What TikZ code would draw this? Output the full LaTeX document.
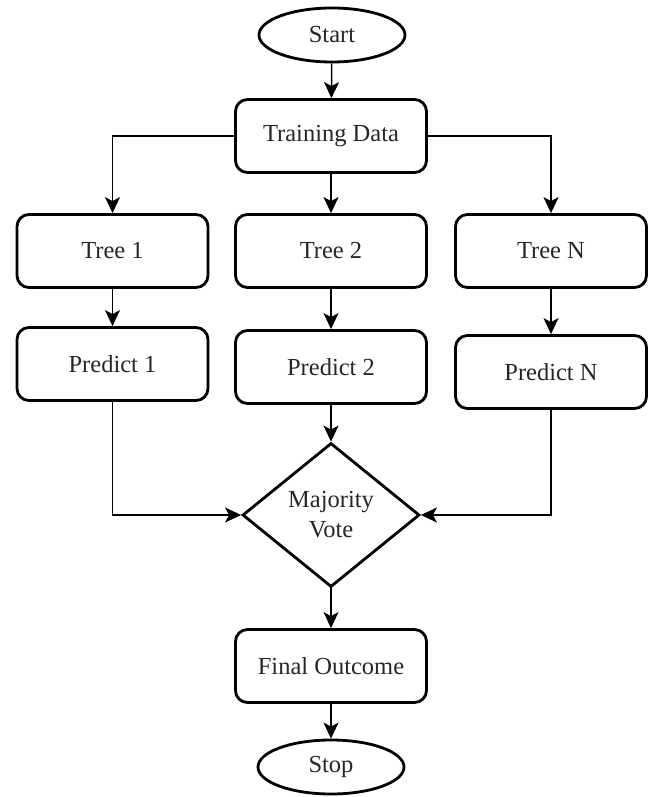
\documentclass[tikz,border=0pt]{standalone}
\usepackage{fontspec}
\setmainfont{Liberation Serif}
\usetikzlibrary{shapes.geometric,arrows.meta}

\tikzset{
  x=1pt, y=-1pt,
  every node/.style={font=\fontsize{24.5}{30}\selectfont, text=black!85},
  terminal/.style={ellipse, draw, line width=2.8pt, minimum width=146pt, minimum height=54pt, inner sep=0pt},
  process/.style={rectangle, rounded corners=12pt, draw, line width=2.8pt, minimum width=191pt, minimum height=73pt, inner sep=0pt},
  decision/.style={diamond, draw, line width=2.8pt, minimum width=177pt, minimum height=144pt, inner sep=0pt, shape aspect=1.2, align=center},
  flow/.style={draw, line width=1.5pt, -{Stealth[length=16pt, width=15pt, inset=4pt]}}
}

\begin{document}
\begin{tikzpicture}
  \useasboundingbox (0,0) rectangle (657,797);

  % main column
  \node[terminal] (start) at (332,35) {Start};
  \node[process]  (train) at (331,136) {Training Data};

  % one tree per column
  \node[process] (tree1) at (112.5,251) {Tree 1};
  \node[process] (tree2) at (331,251) {Tree 2};
  \node[process] (treeN) at (551,251) {Tree N};

  \node[process] (pred1) at (112.5,364) {Predict 1};
  \node[process] (pred2) at (331,367) {Predict 2};
  \node[process] (predN) at (551,372) {Predict N};

  \node[decision] (vote) at (331,515) {Majority\\Vote};

  \node[process]  (final) at (331,666) {Final Outcome};
  \node[terminal] (stop)  at (331,767) {Stop};

  % connectors
  \draw[flow] (start) -- (train);
  \draw[flow] (train.west) -| (tree1.north);
  \draw[flow] (train) -- (tree2);
  \draw[flow] (train.east) -| (treeN.north);

  \draw[flow] (tree1) -- (pred1);
  \draw[flow] (tree2) -- (pred2);
  \draw[flow] (treeN) -- (predN);

  \draw[flow] (pred1.south) |- (vote.west);
  \draw[flow] (pred2) -- (vote);
  \draw[flow] (predN.south) |- (vote.east);

  \draw[flow] (vote) -- (final);
  \draw[flow] (final) -- (stop);
\end{tikzpicture}
\end{document}
